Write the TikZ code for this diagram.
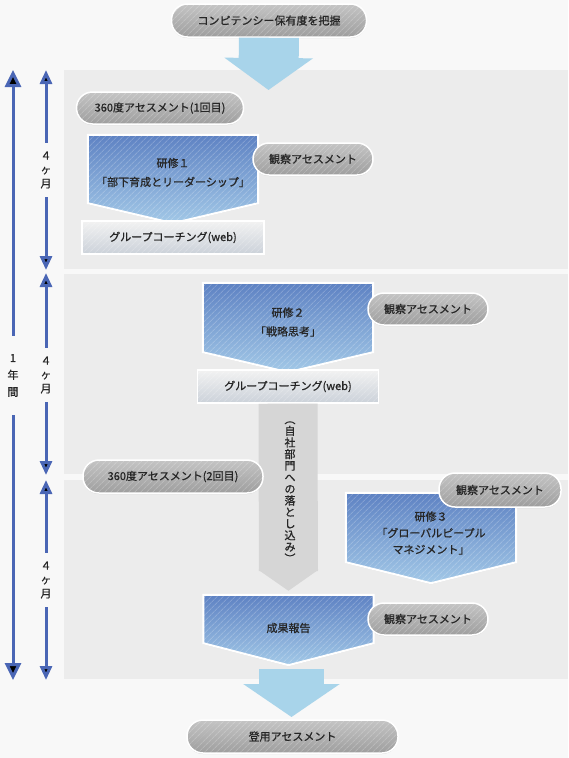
\documentclass[tikz,border=0pt]{standalone}
\usepackage{fontspec}
\setmainfont{Noto Sans CJK JP}[FakeBold=0.8]
\usetikzlibrary{arrows.meta,positioning,shadows,patterns.meta}
\definecolor{bgcol}{HTML}{F8F8F8}
\definecolor{panelcol}{HTML}{ECECEC}
\definecolor{textcol}{HTML}{262626}
\definecolor{sideblue}{HTML}{4A66B5}
\definecolor{bigblue}{HTML}{A8D4EA}
\definecolor{boxtop}{HTML}{5E82C3}
\definecolor{boxbot}{HTML}{A2C8E7}
\definecolor{pilltop}{HTML}{C4C4C4}
\definecolor{pillbot}{HTML}{9E9E9E}
\definecolor{coachtop}{HTML}{F2F2F2}
\definecolor{coachbot}{HTML}{CBD1D9}
\definecolor{grayarrow}{HTML}{D6D6D6}

\begin{document}
\begin{tikzpicture}[x=1pt,y=-1pt,>={Triangle[width=12pt,length=14pt]},
  font=\fontsize{11}{14}\selectfont,text=textcol,
  stripes/.style={postaction={pattern={Lines[angle=45,distance=4pt,line width=1pt]},pattern color=white,fill opacity=0.2}},
  pill node/.style={rectangle,rounded corners=16pt,draw=white,line width=1.5pt,
    top color=pilltop,bottom color=pillbot,minimum height=32pt,inner sep=0pt,
    drop shadow={shadow xshift=0pt,shadow yshift=-1pt,opacity=0.3},stripes},
  coach node/.style={rectangle,draw=white,line width=1.5pt,top color=coachtop,bottom color=coachbot,
    minimum height=33pt,inner sep=0pt,drop shadow={shadow xshift=0pt,shadow yshift=-1pt,opacity=0.2},stripes},
  body node/.style={rectangle,minimum width=170pt,inner sep=0pt},
  step box/.style={draw=white,line width=2pt,top color=boxtop,bottom color=boxbot,
    drop shadow={shadow xshift=0pt,shadow yshift=-1pt,opacity=0.2},stripes},
  step text/.style={align=center,font=\fontsize{11}{19}\selectfont},
  big arrow/.style={-{Triangle[width=87pt,length=32pt]},line width=60pt,draw=bigblue},
  side arrow/.style={->,line width=3pt,draw=sideblue},
  side text/.style={align=center,inner sep=0pt,minimum height=54pt}]

  \fill[bgcol] (0,0) rectangle (568,758);
  \useasboundingbox (0,0) rectangle (568,758);
  \fill[panelcol] (64,70) rectangle (568,269);
  \fill[panelcol] (64,274) rectangle (568,474);
  \fill[panelcol] (64,480) rectangle (568,679);

  % left scale
  \coordinate (y1) at (13,70);
  \coordinate (y2) at (13,680);
  \coordinate (m1) at (46,70);
  \coordinate (m2) at (46,270);
  \coordinate (m3) at (46,273);
  \coordinate (m4) at (46,475);
  \coordinate (m5) at (46,480);
  \coordinate (m6) at (46,680);
  \node[side text,minimum height=79pt,font=\fontsize{11}{17}\selectfont] (15) at (13,375.5) {1\\年\\間};
  \node[side text] (16) at (46,170) {４\\ヶ\\月};
  \node[side text] (17) at (46,375) {４\\ヶ\\月};
  \node[side text] (18) at (46,580) {４\\ヶ\\月};
  \path[side arrow,>={Triangle[width=16pt,length=17pt]}]
    (15) edge (y1)
    (15) edge (y2);
  \path[side arrow]
    (16) edge (m1)
    (16) edge (m2)
    (17) edge (m3)
    (17) edge (m4)
    (18) edge (m5)
    (18) edge (m6);

  \node[pill node,minimum width=195pt,minimum height=33pt] (1) at (269,20.5) {コンピテンシー保有度を把握};
  \coordinate (a1) at (268.5,90);
  \path (1) edge[big arrow] (a1);

  \node[pill node,minimum width=167pt] (2) at (160,108) {360度アセスメント(1回目)};
  \node[body node,minimum height=68pt] (3) at (173,169) {};
  \path[step box] (3.north west) -- (3.north east) -- (3.south east) -- ([yshift=-20pt]3.south) -- (3.south west) -- cycle;
  \node[step text] (3t) at (173,172.5) {研修１\\「部下育成とリーダーシップ」};
  \node[pill node,minimum width=120pt] (4) at (313,159) {観察アセスメント};
  \node[coach node,minimum width=182pt,below=17pt of 3] (5) {グループコーチング(web)};

  \node[body node,minimum height=69pt] (6) at (288,317.5) {};
  \path[step box] (6.north west) -- (6.north east) -- (6.south east) -- ([yshift=-20pt]6.south) -- (6.south west) -- cycle;
  \node[step text] (6t) at (288,322) {研修２\\「戦略思考」};
  \node[pill node,minimum width=120pt] (7) at (428,309) {観察アセスメント};
  \node[coach node,minimum width=181pt,below=17pt of 6] (8) {グループコーチング(web)};

  \node[body node,minimum height=48pt] (12) at (288.5,619) {};
  \path (8) edge[line width=59pt,draw=grayarrow,-{Triangle[width=59pt,length=21pt]},shorten >=4pt] (12);
  \node[align=center,inner sep=0pt,font=\fontsize{11}{11.6}\selectfont] (19) at (290,492)
    {︵\\自\\社\\部\\門\\へ\\の\\落\\と\\し\\込\\み\\︶};

  \node[pill node,minimum width=180pt,minimum height=33pt] (9) at (173,476.5) {360度アセスメント(2回目)};
  \node[body node,minimum height=69pt] (10) at (431,527.5) {};
  \path[step box] (10.north west) -- (10.north east) -- (10.south east) -- ([yshift=-21pt]10.south) -- (10.south west) -- cycle;
  \node[step text,font=\fontsize{11}{16.5}\selectfont] (10t) at (431,533) {研修３\\「グローバルピープル\\マネジメント」};
  \node[pill node,minimum width=122pt,minimum height=34pt] (11) at (500,490) {観察アセスメント};

  \coordinate (a2s) at (291.5,669);
  \coordinate (a2) at (291.5,717);
  \path (a2s) edge[-{Triangle[width=95pt,length=33pt]},line width=65pt,draw=bigblue] (a2);
  \path[step box] (12.north west) -- (12.north east) -- (12.south east) -- ([yshift=-22pt]12.south) -- (12.south west) -- cycle;
  \node[step text] (12t) at (288.5,628) {成果報告};
  \node[pill node,minimum width=120pt] (13) at (428,619) {観察アセスメント};
  \node[pill node,minimum width=211pt,minimum height=33pt] (14) at (292.5,736.5) {登用アセスメント};

\end{tikzpicture}
\end{document}
